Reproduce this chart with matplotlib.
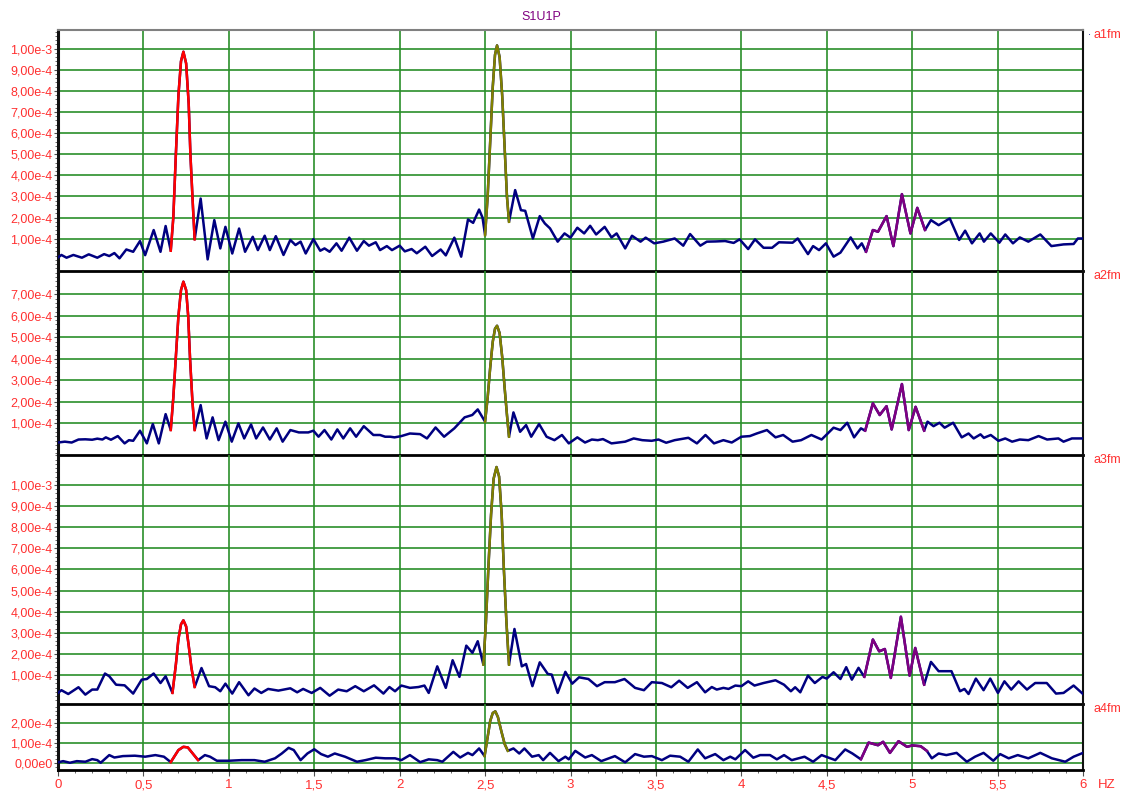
import numpy as np
import matplotlib
matplotlib.use("Agg")
import matplotlib.pyplot as plt
from matplotlib.ticker import MultipleLocator, FixedLocator, FuncFormatter

plt.rcParams["font.family"] = ["Liberation Sans", "DejaVu Sans"]

NAVY = "#000080"
RED = "#ff0000"
OLIVE = "#808000"
PURPLE = "#800080"
GRID = "#2a8f2a"
LABEL = "#ff3030"

SCALE = 1e-4  # values below are read in units of 1e-4

# (frequency Hz, amplitude x1e-4)
a1fm = [(0, 0.11), (0.02, 0.23), (0.05, 0.10), (0.09, 0.23), (0.14, 0.10), (0.18, 0.26),
        (0.23, 0.10), (0.27, 0.27), (0.30, 0.18), (0.33, 0.32), (0.36, 0.07), (0.40, 0.49),
        (0.44, 0.38), (0.48, 0.89), (0.51, 0.22), (0.56, 1.41), (0.60, 0.38), (0.63, 1.60),
        (0.66, 0.43), (0.675, 2.0), (0.69, 5.0), (0.705, 7.8), (0.72, 9.4), (0.734, 9.85),
        (0.75, 9.3), (0.765, 7.4), (0.775, 5.0), (0.79, 2.5), (0.80, 0.97), (0.835, 2.90),
        (0.876, 0.02), (0.915, 1.88), (0.95, 0.54), (0.98, 1.56), (1.02, 0.30), (1.06, 1.48),
        (1.095, 0.38), (1.14, 1.09), (1.17, 0.46), (1.21, 1.14), (1.24, 0.46), (1.275, 1.12),
        (1.32, 0.23), (1.36, 0.94), (1.39, 0.70), (1.42, 0.86), (1.45, 0.30), (1.495, 0.98),
        (1.535, 0.43), (1.56, 0.54), (1.59, 0.38), (1.63, 0.78), (1.66, 0.43), (1.705, 1.05),
        (1.75, 0.43), (1.79, 0.89), (1.82, 0.67), (1.86, 0.83), (1.885, 0.46), (1.925, 0.65),
        (1.955, 0.46), (2.0, 0.67), (2.03, 0.40), (2.07, 0.51), (2.10, 0.31), (2.15, 0.62),
        (2.19, 0.18), (2.24, 0.49), (2.27, 0.21), (2.32, 1.05), (2.36, 0.15), (2.40, 1.91),
        (2.43, 1.75), (2.465, 2.38), (2.485, 2.0), (2.50, 1.17), (2.515, 3.0), (2.53, 5.6),
        (2.545, 8.2), (2.558, 9.7), (2.57, 10.15), (2.585, 9.6), (2.60, 7.8), (2.615, 5.2),
        (2.628, 3.0), (2.64, 1.80), (2.676, 3.30), (2.71, 2.35), (2.735, 2.32), (2.78, 1.01),
        (2.82, 2.07), (2.85, 1.72), (2.88, 1.49), (2.925, 0.86), (2.965, 1.25), (3.0, 1.05),
        (3.04, 1.52), (3.08, 1.25), (3.115, 1.61), (3.15, 1.20), (3.20, 1.56), (3.24, 1.06),
        (3.27, 1.25), (3.32, 0.54), (3.36, 1.14), (3.41, 0.86), (3.44, 1.05), (3.49, 0.78),
        (3.543, 0.86), (3.61, 1.01), (3.66, 0.67), (3.70, 1.22), (3.76, 0.67), (3.798, 0.86),
        (3.85, 0.87), (3.905, 0.89), (3.955, 0.80), (3.99, 0.97), (4.04, 0.51), (4.08, 0.97),
        (4.13, 0.57), (4.18, 0.57), (4.22, 0.83), (4.30, 0.81), (4.33, 1.01), (4.39, 0.27),
        (4.42, 0.65), (4.455, 0.46), (4.495, 0.78), (4.54, 0.15), (4.58, 0.34), (4.64, 1.06),
        (4.68, 0.54), (4.705, 0.78), (4.73, 0.38), (4.77, 1.41), (4.80, 1.33), (4.85, 2.07),
        (4.89, 0.65), (4.94, 3.11), (4.99, 1.25), (5.03, 2.46), (5.075, 1.41), (5.11, 1.88),
        (5.155, 1.64), (5.22, 1.96), (5.275, 0.94), (5.31, 1.38), (5.35, 0.78), (5.395, 1.25),
        (5.42, 0.86), (5.46, 1.25), (5.51, 0.81), (5.545, 1.20), (5.59, 0.78), (5.63, 1.06),
        (5.68, 0.86), (5.75, 1.20), (5.815, 0.65), (5.886, 0.73), (5.945, 0.75), (5.97, 1.01),
        (6.0, 1.01)]

a2fm = [(0, 0.11), (0.04, 0.15), (0.08, 0.11), (0.12, 0.25), (0.16, 0.26), (0.20, 0.24),
        (0.23, 0.29), (0.26, 0.25), (0.28, 0.35), (0.31, 0.24), (0.35, 0.41), (0.39, 0.07),
        (0.415, 0.22), (0.44, 0.19), (0.48, 0.66), (0.52, 0.07), (0.555, 0.97), (0.59, 0.07),
        (0.63, 1.43), (0.66, 0.69), (0.675, 2.2), (0.689, 4.0), (0.705, 6.0), (0.72, 7.2),
        (0.734, 7.59), (0.75, 7.2), (0.762, 6.0), (0.773, 4.0), (0.787, 2.0), (0.80, 0.69),
        (0.835, 1.85), (0.87, 0.30), (0.905, 1.28), (0.94, 0.22), (0.98, 1.08), (1.017, 0.15),
        (1.056, 1.0), (1.09, 0.30), (1.13, 0.95), (1.16, 0.30), (1.20, 0.81), (1.24, 0.25),
        (1.28, 0.77), (1.315, 0.15), (1.36, 0.69), (1.41, 0.58), (1.465, 0.58), (1.495, 0.66),
        (1.525, 0.38), (1.56, 0.69), (1.60, 0.25), (1.635, 0.72), (1.67, 0.30), (1.71, 0.77),
        (1.745, 0.38), (1.79, 0.87), (1.846, 0.46), (1.885, 0.46), (1.915, 0.38), (1.945, 0.38),
        (1.97, 0.35), (2.01, 0.41), (2.06, 0.53), (2.12, 0.50), (2.16, 0.30), (2.21, 0.81),
        (2.26, 0.38), (2.32, 0.77), (2.38, 1.28), (2.425, 1.39), (2.457, 1.65), (2.50, 1.08),
        (2.515, 2.2), (2.53, 3.6), (2.545, 4.8), (2.558, 5.4), (2.57, 5.54), (2.585, 5.2),
        (2.60, 4.1), (2.615, 2.6), (2.628, 1.4), (2.64, 0.38), (2.666, 1.51), (2.705, 0.61),
        (2.74, 0.92), (2.77, 0.38), (2.816, 0.97), (2.86, 0.38), (2.906, 0.22), (2.95, 0.46),
        (2.99, 0.07), (3.04, 0.35), (3.085, 0.11), (3.125, 0.25), (3.16, 0.22), (3.19, 0.27),
        (3.24, 0.07), (3.32, 0.15), (3.37, 0.30), (3.42, 0.22), (3.475, 0.19), (3.515, 0.25),
        (3.56, 0.10), (3.61, 0.22), (3.69, 0.33), (3.74, 0.07), (3.79, 0.46), (3.84, 0.07),
        (3.895, 0.22), (3.944, 0.11), (4.0, 0.38), (4.05, 0.41), (4.09, 0.53), (4.15, 0.69),
        (4.20, 0.35), (4.245, 0.46), (4.30, 0.15), (4.35, 0.22), (4.41, 0.46), (4.47, 0.25),
        (4.54, 0.80), (4.58, 0.69), (4.62, 1.03), (4.66, 0.35), (4.70, 0.77), (4.725, 0.66),
        (4.77, 1.93), (4.81, 1.39), (4.85, 1.80), (4.88, 0.72), (4.94, 2.83), (4.98, 0.69),
        (5.02, 1.77), (5.07, 0.66), (5.09, 1.08), (5.125, 0.87), (5.16, 1.03), (5.19, 0.80),
        (5.24, 1.03), (5.29, 0.35), (5.33, 0.53), (5.36, 0.30), (5.40, 0.49), (5.42, 0.33),
        (5.46, 0.46), (5.505, 0.19), (5.545, 0.30), (5.585, 0.15), (5.63, 0.25), (5.68, 0.22),
        (5.74, 0.41), (5.79, 0.25), (5.856, 0.30), (5.886, 0.15), (5.935, 0.30), (6.0, 0.30)]

a3fm = [(0, 0.15), (0.02, 0.28), (0.06, 0.10), (0.12, 0.42), (0.16, 0.07), (0.20, 0.31),
        (0.23, 0.31), (0.275, 1.07), (0.30, 0.94), (0.34, 0.54), (0.39, 0.51), (0.44, 0.12),
        (0.49, 0.78), (0.52, 0.81), (0.56, 1.07), (0.60, 0.62), (0.63, 0.94), (0.67, 0.15),
        (0.69, 1.5), (0.705, 2.7), (0.72, 3.4), (0.734, 3.59), (0.75, 3.3), (0.765, 2.4),
        (0.78, 1.4), (0.80, 0.43), (0.84, 1.33), (0.884, 0.47), (0.92, 0.42), (0.95, 0.23),
        (0.98, 0.59), (1.02, 0.12), (1.06, 0.66), (1.115, 0.04), (1.15, 0.36), (1.19, 0.15),
        (1.23, 0.34), (1.29, 0.26), (1.36, 0.37), (1.40, 0.18), (1.435, 0.34), (1.485, 0.15),
        (1.535, 0.39), (1.59, 0.02), (1.64, 0.31), (1.69, 0.23), (1.74, 0.47), (1.79, 0.23),
        (1.85, 0.51), (1.905, 0.12), (1.94, 0.43), (1.973, 0.23), (2.01, 0.50), (2.06, 0.39),
        (2.11, 0.43), (2.145, 0.50), (2.17, 0.15), (2.22, 1.41), (2.27, 0.39), (2.31, 1.70),
        (2.35, 0.91), (2.39, 2.39), (2.426, 2.05), (2.457, 2.60), (2.49, 1.49), (2.505, 3.5),
        (2.52, 6.2), (2.535, 8.6), (2.55, 10.3), (2.567, 10.85), (2.582, 10.4), (2.597, 8.6),
        (2.61, 6.0), (2.625, 3.5), (2.64, 1.49), (2.672, 3.18), (2.715, 1.41), (2.74, 1.52),
        (2.777, 0.47), (2.82, 1.60), (2.867, 1.05), (2.89, 1.02), (2.925, 0.15), (2.97, 1.15),
        (3.01, 0.59), (3.05, 0.89), (3.105, 0.81), (3.155, 0.47), (3.20, 0.66), (3.26, 0.66),
        (3.316, 0.81), (3.378, 0.39), (3.43, 0.28), (3.476, 0.66), (3.535, 0.62), (3.59, 0.42),
        (3.636, 0.73), (3.686, 0.39), (3.74, 0.66), (3.788, 0.18), (3.827, 0.43), (3.856, 0.31),
        (3.895, 0.39), (3.925, 0.34), (3.965, 0.50), (4.0, 0.47), (4.04, 0.70), (4.077, 0.50),
        (4.13, 0.62), (4.20, 0.75), (4.25, 0.54), (4.29, 0.23), (4.315, 0.42), (4.345, 0.18),
        (4.39, 0.97), (4.43, 0.62), (4.475, 0.91), (4.50, 0.83), (4.54, 1.13), (4.58, 0.81),
        (4.614, 1.37), (4.647, 0.78), (4.686, 1.34), (4.72, 0.91), (4.77, 2.68), (4.807, 2.12),
        (4.84, 2.23), (4.875, 0.86), (4.934, 3.76), (4.985, 0.97), (5.018, 2.28), (5.07, 0.54),
        (5.11, 1.62), (5.155, 1.18), (5.23, 1.18), (5.28, 0.23), (5.306, 0.34), (5.33, 0.10),
        (5.373, 0.83), (5.418, 0.28), (5.457, 0.83), (5.502, 0.15), (5.54, 0.70), (5.58, 0.31),
        (5.623, 0.70), (5.672, 0.31), (5.72, 0.62), (5.788, 0.62), (5.842, 0.12), (5.886, 0.15),
        (5.945, 0.50), (6.0, 0.10)]

a4fm = [(0, 0.05), (0.03, 0.11), (0.07, 0.03), (0.11, 0.11), (0.16, 0.08), (0.20, 0.21),
        (0.23, 0.16), (0.25, 0.03), (0.30, 0.41), (0.33, 0.29), (0.38, 0.36), (0.45, 0.38),
        (0.51, 0.33), (0.57, 0.41), (0.62, 0.33), (0.66, 0.06), (0.705, 0.66), (0.734, 0.82),
        (0.76, 0.79), (0.82, 0.16), (0.86, 0.41), (0.89, 0.33), (0.93, 0.13), (1.0, 0.13),
        (1.075, 0.16), (1.15, 0.16), (1.21, 0.08), (1.27, 0.25), (1.31, 0.49), (1.35, 0.77),
        (1.38, 0.66), (1.42, 0.16), (1.46, 0.49), (1.50, 0.70), (1.54, 0.46), (1.58, 0.33),
        (1.62, 0.49), (1.68, 0.33), (1.75, 0.08), (1.80, 0.16), (1.86, 0.28), (1.915, 0.25),
        (1.973, 0.25), (2.01, 0.16), (2.06, 0.41), (2.12, 0.06), (2.17, 0.20), (2.22, 0.16),
        (2.25, 0.08), (2.314, 0.57), (2.354, 0.29), (2.40, 0.52), (2.426, 0.41), (2.465, 0.74),
        (2.497, 0.36), (2.515, 1.3), (2.53, 2.1), (2.545, 2.5), (2.56, 2.58), (2.575, 2.3),
        (2.595, 1.6), (2.615, 0.95), (2.633, 0.62), (2.666, 0.74), (2.70, 0.49), (2.73, 0.74),
        (2.775, 0.33), (2.814, 0.41), (2.84, 0.16), (2.88, 0.52), (2.93, 0.11), (2.97, 0.33),
        (2.99, 0.20), (3.028, 0.62), (3.086, 0.29), (3.125, 0.41), (3.18, 0.11), (3.26, 0.36),
        (3.32, 0.05), (3.378, 0.46), (3.43, 0.33), (3.476, 0.36), (3.535, 0.16), (3.583, 0.38),
        (3.642, 0.33), (3.69, 0.08), (3.745, 0.69), (3.788, 0.25), (3.847, 0.46), (3.895, 0.16),
        (3.935, 0.33), (3.965, 0.20), (4.022, 0.66), (4.07, 0.28), (4.11, 0.41), (4.168, 0.41),
        (4.208, 0.20), (4.25, 0.41), (4.295, 0.16), (4.37, 0.33), (4.42, 0.08), (4.47, 0.41),
        (4.55, 0.16), (4.608, 0.69), (4.65, 0.49), (4.70, 0.20), (4.745, 1.03), (4.80, 0.90),
        (4.83, 1.07), (4.87, 0.52), (4.92, 1.10), (4.97, 0.82), (5.0, 0.89), (5.05, 0.85),
        (5.086, 0.62), (5.115, 0.25), (5.155, 0.49), (5.20, 0.41), (5.26, 0.52), (5.32, 0.08),
        (5.368, 0.33), (5.418, 0.52), (5.475, 0.13), (5.515, 0.46), (5.565, 0.25), (5.618, 0.41),
        (5.68, 0.25), (5.75, 0.52), (5.818, 0.25), (5.896, 0.08), (5.945, 0.33), (6.0, 0.52)]

# highlighted frequency windows (red / olive / purple) per channel
bands = {
    "a1fm": [(0.66, 0.80), (2.50, 2.64), (4.73, 5.075)],
    "a2fm": [(0.66, 0.80), (2.50, 2.64), (4.725, 5.07)],
    "a3fm": [(0.67, 0.80), (2.49, 2.64), (4.72, 5.07)],
    "a4fm": [(0.66, 0.82), (2.497, 2.633), (4.70, 5.086)],
}
band_colors = [RED, OLIVE, PURPLE]

# y ticks (x1e-4) and y range per channel
yticks = {
    "a1fm": [1, 2, 3, 4, 5, 6, 7, 8, 9, 10],
    "a2fm": [1, 2, 3, 4, 5, 6, 7],
    "a3fm": [1, 2, 3, 4, 5, 6, 7, 8, 9, 10],
    "a4fm": [0, 1, 2],
}
ylims = {
    "a1fm": (-0.515, 10.88),
    "a2fm": (-0.47, 8.10),
    "a3fm": (-0.35, 11.42),
    "a4fm": (-0.305, 2.97),
}
series = {"a1fm": a1fm, "a2fm": a2fm, "a3fm": a3fm, "a4fm": a4fm}

W, H = 1121, 792
# panel edges in pixels: (top, bottom)
panels = [("a1fm", 30, 270.7), ("a2fm", 270.7, 455), ("a3fm", 455, 703.5), ("a4fm", 703.5, 769.5)]
left_px, right_px = 58, 1083


def sci_label(v, pos=None):
    if abs(v) < 1e-12:
        return "0,00e0"
    exp = int(np.floor(np.log10(abs(v)) + 1e-9))
    mant = v / 10 ** exp
    return f"{mant:.2f}".replace(".", ",") + f"e{exp}"


fig = plt.figure(figsize=(W / 100, H / 100), dpi=100)
for i, (name, top, bot) in enumerate(panels):
    ax = fig.add_axes([left_px / W, 1 - bot / H, (right_px - left_px) / W, (bot - top) / H])
    ax.set_facecolor("none")  # keep the separator line of the panel above visible
    pts = np.array(series[name])
    f, v = pts[:, 0], pts[:, 1] * SCALE
    ax.plot(f, v, color=NAVY, lw=1.8, zorder=3, solid_joinstyle="round")
    for (lo, hi), c in zip(bands[name], band_colors):
        m = (f >= lo - 1e-9) & (f <= hi + 1e-9)
        ax.plot(f[m], v[m], color=c, lw=1.8, zorder=4, solid_joinstyle="round")
    ax.set_xlim(0, 6)
    ax.set_ylim(ylims[name][0] * SCALE, ylims[name][1] * SCALE)
    ax.yaxis.set_major_locator(FixedLocator([t * SCALE for t in yticks[name]]))
    ax.yaxis.set_major_formatter(FuncFormatter(sci_label))
    ax.yaxis.set_minor_locator(MultipleLocator(0.2 * SCALE))
    ax.xaxis.set_major_locator(MultipleLocator(0.5))
    ax.xaxis.set_minor_locator(MultipleLocator(0.1))
    ax.grid(True, which="major", color=GRID, lw=1.2, zorder=1)
    ax.tick_params(axis="y", which="major", direction="out", length=3, width=0.8,
                   colors="#505050", labelcolor=LABEL, labelsize=9, pad=1)
    ax.tick_params(axis="y", which="minor", direction="out", length=2, width=0.6, colors="#505050")
    ax.spines["left"].set_linewidth(2.2)
    ax.spines["left"].set_color("#101010")
    ax.spines["right"].set_linewidth(1.5)
    ax.spines["right"].set_color("#101010")
    ax.spines["bottom"].set_linewidth(2.0)
    ax.spines["bottom"].set_color("black")
    ax.spines["bottom"].set_zorder(5)
    if i == 0:
        ax.spines["top"].set_color("#808080")
        ax.spines["top"].set_linewidth(1.5)
    else:
        ax.spines["top"].set_visible(False)
    if i < 3:
        ax.tick_params(axis="x", which="both", bottom=False, labelbottom=False)
    else:
        ax.xaxis.set_major_formatter(FuncFormatter(lambda x, p: f"{x:g}".replace(".", ",")))
        ax.tick_params(axis="x", which="major", direction="out", length=4, width=0.8,
                       colors="#505050", labelcolor=LABEL, labelsize=9.5, pad=3)
        ax.tick_params(axis="x", which="minor", direction="out", length=2, width=0.6, colors="#505050")
    # channel name to the right of the panel
    fig.text(1093 / W, 1 - (top + 5) / H, name, color=LABEL, fontsize=9, va="center", ha="left")

fig.text(1089 / W, 1 - 35 / H, "·", color=NAVY, fontsize=7, va="center", ha="center")
fig.text(1098 / W, 1 - 785 / H, "HZ", color=LABEL, fontsize=9.5, va="center", ha="left")
fig.text(541 / W, 1 - 17 / H, "S1U1P", color=PURPLE, fontsize=9, va="center", ha="center")

fig.savefig("out.png", dpi=100, facecolor="white")
